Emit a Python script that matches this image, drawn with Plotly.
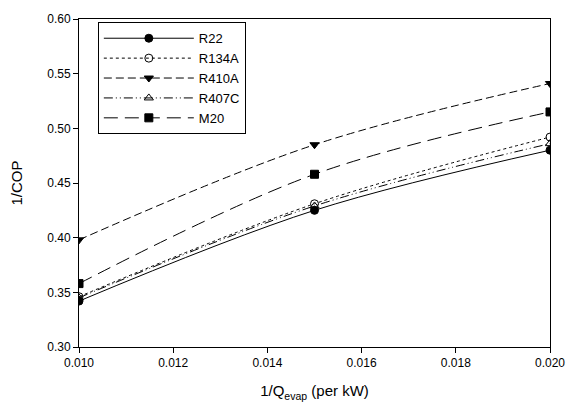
import plotly.graph_objects as go

# Inverse evaporator capacity (per kW)
inv_q = [0.010, 0.015, 0.020]

# 1/COP for each refrigerant
r22 = [0.342, 0.425, 0.480]
r134a = [0.346, 0.431, 0.492]
r410a = [0.398, 0.485, 0.541]
r407c = [0.345, 0.429, 0.486]
m20 = [0.358, 0.458, 0.515]

series = [
    ("R22", r22, "solid", "circle"),
    ("R134A", r134a, "dot", "circle-open"),
    ("R410A", r410a, "8px,4px", "triangle-down"),
    ("R407C", r407c, "9px,3px,1px,3px,1px,3px", "triangle-up-open"),
    ("M20", m20, "14px,7px", "square"),
]

fig = go.Figure()
for name, vals, dash, sym in series:
    fig.add_trace(go.Scatter(
        x=inv_q, y=vals, name=name, mode="lines+markers",
        line=dict(color="black", width=1, dash=dash, shape="spline", smoothing=1.0),
        marker=dict(symbol=sym, size=8, color="black",
                    line=dict(color="black", width=1)),
    ))

base_font = dict(family="Liberation Sans, Arial, sans-serif", size=12, color="black")

fig.update_layout(
    width=577, height=409,
    margin=dict(l=79, r=20, t=14, b=60),
    paper_bgcolor="white", plot_bgcolor="white",
    font=base_font,
    showlegend=True,
    legend=dict(
        x=0.04, y=0.99, xanchor="left", yanchor="top",
        bordercolor="black", borderwidth=1, bgcolor="white",
        font=dict(family="Liberation Sans, Arial, sans-serif", size=13, color="black"),
        itemwidth=90, tracegroupgap=0,
    ),
    xaxis=dict(
        range=[0.010, 0.020], tickvals=[0.010, 0.012, 0.014, 0.016, 0.018, 0.020],
        tickformat=".3f", showgrid=False, zeroline=False,
        showline=True, linecolor="black", linewidth=1, mirror=True,
        ticks="outside", ticklen=5, tickcolor="black",
        title=dict(text="1/Q<sub>evap</sub> (per kW)", font=dict(size=15), standoff=16),
    ),
    yaxis=dict(
        range=[0.30, 0.60], tickvals=[0.30, 0.35, 0.40, 0.45, 0.50, 0.55, 0.60],
        tickformat=".2f", showgrid=False, zeroline=False,
        showline=True, linecolor="black", linewidth=1, mirror=True,
        ticks="outside", ticklen=5, tickcolor="black",
        title=dict(text="1/COP", font=dict(size=15), standoff=20),
    ),
)

fig.write_html("out.html")
